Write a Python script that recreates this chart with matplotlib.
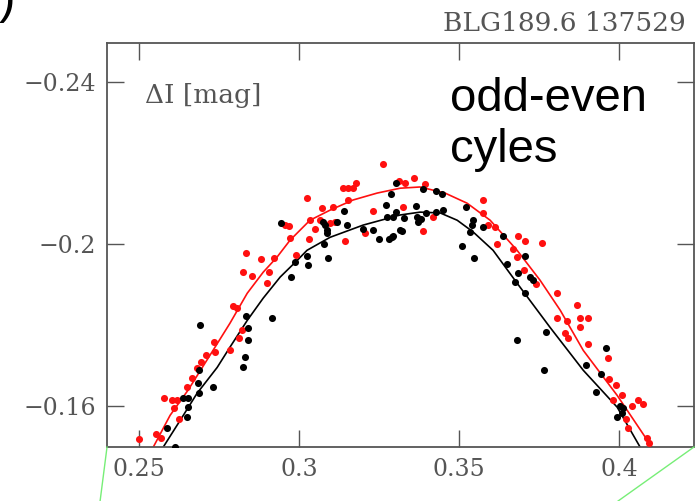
import numpy as np
import matplotlib
matplotlib.use('Agg')
from matplotlib import pyplot as plt
from matplotlib.lines import Line2D

# phase and magnitude difference of the "red" (even) cycles
red_phase = [0.25, 0.2553, 0.2569, 0.2625, 0.2609, 0.2578, 0.2603, 0.2619,
             0.265, 0.2666, 0.2681, 0.2694, 0.2709, 0.2734, 0.2738, 0.2784,
             0.2813, 0.2822, 0.2794, 0.2806, 0.2825, 0.2853, 0.2906, 0.29,
             0.2834, 0.2881, 0.2922, 0.2991, 0.2972, 0.2956, 0.2969, 0.3031,
             0.305, 0.3034, 0.3066, 0.3097, 0.3113, 0.3072, 0.3106, 0.3025,
             0.3144, 0.3153, 0.3138, 0.3153, 0.3169, 0.3178, 0.3263, 0.3231,
             0.3206, 0.3313, 0.3331, 0.3359, 0.3394, 0.3325, 0.3419, 0.3388,
             0.3575, 0.3575, 0.3591, 0.3613, 0.3619, 0.3684, 0.3706, 0.3759,
             0.3669, 0.3681, 0.3703, 0.3741, 0.3806, 0.3869, 0.3806, 0.3838,
             0.3878, 0.3903, 0.3878, 0.3831, 0.3841, 0.3903, 0.3966, 0.3969,
             0.3991, 0.4009, 0.3981, 0.4041, 0.4059, 0.4075, 0.4022, 0.4028,
             0.4088, 0.4094]
red_mag = [-0.1519, -0.1531, -0.1521, -0.1568, -0.1595, -0.1622, -0.1615,
           -0.1617, -0.1649, -0.1669, -0.1694, -0.1709, -0.1726, -0.1758,
           -0.1733, -0.1738, -0.1768, -0.1788, -0.1847, -0.1842, -0.1931,
           -0.1921, -0.1931, -0.1904, -0.1978, -0.1963, -0.1965, -0.1973,
           -0.2015, -0.2047, -0.2044, -0.2012, -0.2037, -0.2059, -0.2059,
           -0.2052, -0.2054, -0.2089, -0.2091, -0.2114, -0.2007, -0.2109,
           -0.2138, -0.2138, -0.2138, -0.2151, -0.2198, -0.2081, -0.2027,
           -0.2156, -0.2151, -0.2163, -0.2148, -0.2091, -0.2067, -0.2032,
           -0.2109, -0.2077, -0.2047, -0.2042, -0.2, -0.202, -0.2007, -0.2002,
           -0.1988, -0.1968, -0.1936, -0.1901, -0.1879, -0.1849, -0.1817,
           -0.181, -0.1817, -0.1817, -0.1795, -0.178, -0.1768, -0.1753,
           -0.1719, -0.1667, -0.1652, -0.1627, -0.1617, -0.1602, -0.1615,
           -0.1607, -0.157, -0.1548, -0.1521, -0.1509]

# odd cycles
black_phase = [0.2613, 0.2588, 0.265, 0.2653, 0.2638, 0.2653, 0.2688, 0.2731,
               0.2684, 0.2688, 0.2691, 0.2825, 0.2831, 0.2841, 0.2841, 0.2834,
               0.2916, 0.2975, 0.2988, 0.3025, 0.3028, 0.3091, 0.3078, 0.2944,
               0.3075, 0.3081, 0.3088, 0.3088, 0.3119, 0.3141, 0.315, 0.32,
               0.3231, 0.325, 0.3281, 0.3294, 0.3272, 0.3288, 0.3303, 0.3275,
               0.3294, 0.3303, 0.3316, 0.3388, 0.3428, 0.3447, 0.3366, 0.3328,
               0.3369, 0.3381, 0.3372, 0.3397, 0.3428, 0.345, 0.3522, 0.3544,
               0.3541, 0.3575, 0.3534, 0.3322, 0.3291, 0.3509, 0.3547, 0.3638,
               0.365, 0.3706, 0.3684, 0.3675, 0.3722, 0.3731, 0.3706, 0.3681,
               0.3772, 0.3766, 0.3897, 0.3944, 0.3959, 0.3928, 0.4003, 0.4013,
               0.3994, 0.4009]
black_mag = [-0.1499, -0.1548, -0.1573, -0.1598, -0.1622, -0.1622, -0.1632,
             -0.1649, -0.1657, -0.1689, -0.18, -0.1696, -0.1721, -0.1763,
             -0.1793, -0.1822, -0.1817, -0.1919, -0.1956, -0.197, -0.1948,
             -0.1965, -0.2, -0.2052, -0.2054, -0.2047, -0.2035, -0.2027,
             -0.2054, -0.2081, -0.2047, -0.2037, -0.2035, -0.2012, -0.2012,
             -0.202, -0.2096, -0.2123, -0.2151, -0.2067, -0.2067, -0.2079,
             -0.2035, -0.2136, -0.2131, -0.2123, -0.2094, -0.2064, -0.2067,
             -0.2062, -0.2054, -0.2077, -0.2079, -0.2084, -0.2091, -0.2059,
             -0.2047, -0.2042, -0.203, -0.2032, -0.2017, -0.1995, -0.1965,
             -0.202, -0.1951, -0.197, -0.1928, -0.1906, -0.1919, -0.1911,
             -0.1879, -0.1765, -0.1783, -0.1689, -0.1701, -0.1681, -0.1743,
             -0.1635, -0.16, -0.1595, -0.1573, -0.1585]

# fitted curves
red_fit_phase = [0.2544, 0.2597, 0.2653, 0.2731, 0.2784, 0.2838, 0.2888,
                 0.2931, 0.2972, 0.3034, 0.3097, 0.3169, 0.3244, 0.3316,
                 0.3378, 0.3456, 0.3525, 0.3597, 0.3681, 0.3753, 0.3816,
                 0.3888, 0.3994, 0.4103]
red_fit_mag = [-0.1499, -0.1578, -0.164, -0.1738, -0.1805, -0.1879, -0.1931,
               -0.1968, -0.201, -0.2059, -0.2084, -0.2109, -0.2126, -0.2138,
               -0.2141, -0.2126, -0.2101, -0.2059, -0.1985, -0.1911, -0.1837,
               -0.1738, -0.1627, -0.1499]
black_fit_phase = [0.2575, 0.2628, 0.2681, 0.2744, 0.2784, 0.2838, 0.2888,
                   0.2941, 0.2994, 0.3025, 0.3097, 0.32, 0.3316, 0.3378,
                   0.3441, 0.3494, 0.3544, 0.3606, 0.3681, 0.3784, 0.3888,
                   0.3994, 0.4066]
black_fit_mag = [-0.1499, -0.1565, -0.1632, -0.1696, -0.1746, -0.1812,
                 -0.1867, -0.1919, -0.196, -0.1985, -0.2017, -0.2047, -0.2072,
                 -0.2079, -0.2077, -0.2059, -0.203, -0.1985, -0.1904, -0.1795,
                 -0.1689, -0.1598, -0.1499]

x_ticks = [0.25, 0.3, 0.35, 0.4]
x_labels = ['0.25', '0.3', '0.35', '0.4']
y_ticks = [-0.24, -0.2, -0.16]
y_labels = ['\u22120.24', '\u22120.2', '\u22120.16']

grey = '#555555'

fig = plt.figure(figsize=(7.0, 5.01), dpi=100)
ax = fig.add_axes([0.1529, 0.1078, 0.8386, 0.8064])

ax.plot(red_fit_phase, red_fit_mag, color='#ff1010', lw=1.2, zorder=2)
ax.plot(black_fit_phase, black_fit_mag, color='black', lw=1.2, zorder=2)
ax.scatter(red_phase, red_mag, s=26, color='#ff1010', lw=0, zorder=3)
ax.scatter(black_phase, black_mag, s=26, color='black', lw=0, zorder=4)

ax.set_xlim(0.24, 0.4234)
ax.set_ylim(-0.150, -0.2496)

ax.set_xticks(x_ticks)
ax.set_xticklabels(x_labels)
ax.set_yticks(y_ticks)
ax.set_yticklabels(y_labels)
ax.tick_params(direction='in', length=12, width=1.0, color=grey,
               labelcolor=grey, labelsize=17, top=True, right=True,
               pad=8)
for lab in ax.get_xticklabels() + ax.get_yticklabels():
    lab.set_family('DejaVu Serif')
for sp in ax.spines.values():
    sp.set_color(grey)
    sp.set_linewidth(1.3)

ax.text(0.065, 0.871, '\u0394I [mag]', transform=ax.transAxes,
        family='DejaVu Serif', fontsize=19, color=grey, va='center')
fig.text(0.979, 0.954, 'BLG189.6 137529', family='DejaVu Serif',
         fontsize=19, color=grey, ha='right', va='center')
ax.text(0.585, 0.915, 'odd-even\ncyles', transform=ax.transAxes,
        family='Liberation Sans', fontsize=34, color='black', va='top',
        linespacing=1.2)
fig.text(0.022, 1.0, ')', family='Liberation Sans', fontsize=36,
         color='black', ha='right', va='center')

# green marker lines at the lower corners
fig.add_artist(Line2D([0.1529, 0.143], [0.1078, 0.0], color='#77ee77',
                      lw=1.0, transform=fig.transFigure))
fig.add_artist(Line2D([0.9914, 0.883], [0.1078, 0.0], color='#77ee77',
                      lw=1.0, transform=fig.transFigure))

fig.savefig('out.png', dpi=100)
